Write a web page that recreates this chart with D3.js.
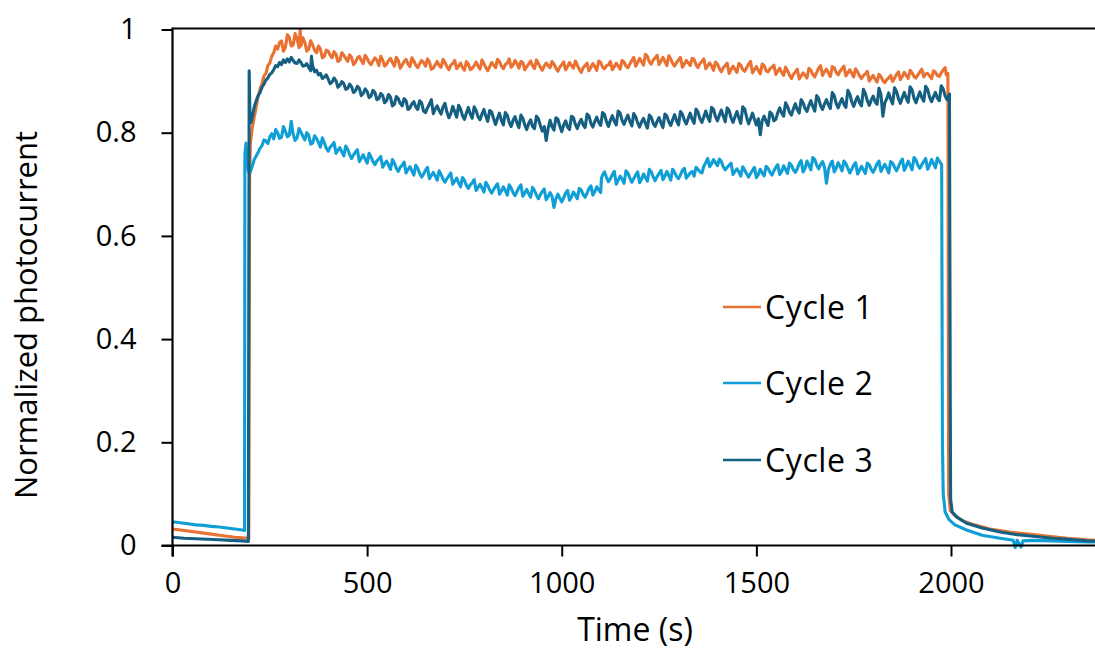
<!DOCTYPE html>
<html>
<head>
<meta charset="utf-8">
<script src="https://cdn.jsdelivr.net/npm/d3@7"></script>
<style>
  html, body { margin: 0; padding: 0; background: #fff; }
  svg { display: block; }
  text { font-family: "Open Sans", "Noto Sans", sans-serif; fill: #000; }
</style>
</head>
<body>
<svg id="chart" width="1095" height="649"></svg>
<script>
// ---------------- DATA (time in s, normalized photocurrent) ----------------
const seriesNames = ["Cycle 1", "Cycle 2", "Cycle 3"];
const seriesColors = ["#E97132", "#0F9ED5", "#156082"];
const xTicks = [0, 500, 1000, 1500, 2000];
const yTicks = [0, 0.2, 0.4, 0.6, 0.8, 1];
const yTickLabels = ["0", "0.2", "0.4", "0.6", "0.8", "1"];

const cycle1 = [
[0,0.032],[20,0.030],[40,0.028],[60,0.026],[80,0.024],[100,0.022],[120,0.020],[140,0.018],[160,0.016],[180,0.015],[196,0.014],
[198,0.70],[200,0.78],[205,0.81],[210,0.83],[215,0.85],[220,0.87],[225,0.885],[230,0.895],[235,0.91],[240,0.915],[245,0.93],[250,0.935],[255,0.948],[260,0.955],[265,0.968],
[270,0.962],[275,0.975],[280,0.978],[285,0.958],[290,0.965],[295,0.990],[300,0.985],[305,0.968],[310,0.970],[315,0.992],[320,0.982],[325,0.965],[328,1.000],[330,0.968],
[335,0.984],[340,0.975],[345,0.958],[350,0.962],[355,0.978],[360,0.970],[365,0.960],[370,0.955],[375,0.968],[380,0.962],[385,0.945],[390,0.948],[395,0.960],[400,0.958],
[405,0.950],[410,0.945],[415,0.957],[420,0.952],[425,0.938],[430,0.940],[435,0.955],[440,0.950],[445,0.944],[450,0.938],[455,0.951],[460,0.946],[465,0.932],[470,0.936],
[475,0.945],[480,0.948],[485,0.940],[490,0.934],[495,0.950],[500,0.944],[505,0.936],[510,0.932],[515,0.939],[520,0.945],[525,0.941],[530,0.930],[535,0.948],[540,0.941],
[545,0.929],[550,0.933],[555,0.940],[560,0.944],[565,0.936],[570,0.929],[575,0.946],[580,0.940],[585,0.925],[590,0.931],[595,0.938],[600,0.942],[605,0.933],[610,0.928],
[615,0.945],[620,0.939],[625,0.931],[630,0.926],[635,0.934],[640,0.940],[645,0.936],[650,0.929],[655,0.943],[660,0.937],[665,0.923],[670,0.925],[675,0.932],[680,0.938],
[685,0.930],[690,0.927],[695,0.942],[700,0.936],[705,0.928],[710,0.922],[715,0.931],[720,0.934],[725,0.940],[730,0.924],[735,0.929],[740,0.935],[745,0.926],[750,0.921],
[755,0.938],[760,0.933],[765,0.922],[770,0.925],[775,0.930],[780,0.937],[785,0.929],[790,0.923],[795,0.941],[800,0.934],[805,0.926],[810,0.920],[815,0.928],[820,0.936],
[825,0.931],[830,0.926],[835,0.942],[840,0.938],[845,0.929],[850,0.924],[855,0.932],[860,0.935],[865,0.943],[870,0.927],[875,0.931],[880,0.940],[885,0.934],[890,0.925],
[895,0.938],[900,0.936],[905,0.922],[910,0.928],[915,0.933],[920,0.939],[925,0.930],[930,0.924],[935,0.941],[940,0.934],[945,0.927],[950,0.921],[955,0.929],[960,0.935],
[965,0.930],[970,0.926],[975,0.938],[980,0.933],[985,0.925],[990,0.919],[995,0.927],[1000,0.932],[1005,0.937],[1010,0.922],[1015,0.928],[1020,0.936],[1025,0.930],[1030,0.925],
[1035,0.939],[1040,0.931],[1045,0.923],[1050,0.917],[1055,0.926],[1060,0.930],[1065,0.935],[1070,0.920],[1075,0.927],[1080,0.934],[1085,0.928],[1090,0.921],[1095,0.939],[1100,0.936],
[1105,0.927],[1110,0.924],[1115,0.930],[1120,0.931],[1125,0.938],[1130,0.922],[1135,0.928],[1140,0.935],[1145,0.929],[1150,0.923],[1155,0.940],[1160,0.937],[1165,0.929],[1170,0.926],
[1175,0.933],[1180,0.940],[1185,0.946],[1190,0.929],[1195,0.936],[1200,0.944],[1205,0.938],[1210,0.931],[1215,0.952],[1220,0.948],[1225,0.937],[1230,0.933],[1235,0.941],[1240,0.945],
[1245,0.950],[1250,0.932],[1255,0.939],[1260,0.946],[1265,0.938],[1270,0.930],[1275,0.949],[1280,0.943],[1285,0.934],[1290,0.929],[1295,0.936],[1300,0.941],[1305,0.946],[1310,0.927],
[1315,0.933],[1320,0.940],[1325,0.935],[1330,0.930],[1335,0.944],[1340,0.942],[1345,0.932],[1350,0.926],[1355,0.934],[1360,0.938],[1365,0.943],[1370,0.924],[1375,0.930],[1380,0.935],
[1385,0.929],[1390,0.921],[1395,0.937],[1400,0.933],[1405,0.924],[1410,0.918],[1415,0.926],[1420,0.930],[1425,0.935],[1430,0.915],[1435,0.922],[1440,0.929],[1445,0.923],[1450,0.917],
[1455,0.934],[1460,0.931],[1465,0.922],[1470,0.919],[1475,0.926],[1480,0.933],[1485,0.938],[1490,0.916],[1495,0.922],[1500,0.928],[1505,0.921],[1510,0.914],[1515,0.933],[1520,0.930],
[1525,0.920],[1530,0.918],[1535,0.924],[1540,0.927],[1545,0.931],[1550,0.913],[1555,0.919],[1560,0.925],[1565,0.917],[1570,0.911],[1575,0.927],[1580,0.920],[1585,0.912],[1590,0.905],
[1595,0.913],[1600,0.918],[1605,0.923],[1610,0.904],[1615,0.910],[1620,0.916],[1625,0.911],[1630,0.906],[1635,0.925],[1640,0.921],[1645,0.913],[1650,0.908],[1655,0.917],[1660,0.925],
[1665,0.930],[1670,0.911],[1675,0.918],[1680,0.923],[1685,0.916],[1690,0.909],[1695,0.928],[1700,0.926],[1705,0.917],[1710,0.912],[1715,0.919],[1720,0.924],[1725,0.929],[1730,0.910],
[1735,0.916],[1740,0.922],[1745,0.915],[1750,0.908],[1755,0.924],[1760,0.918],[1765,0.910],[1770,0.905],[1775,0.911],[1780,0.914],[1785,0.919],[1790,0.900],[1795,0.906],[1800,0.911],
[1805,0.904],[1810,0.898],[1815,0.913],[1820,0.909],[1825,0.901],[1830,0.897],[1835,0.903],[1840,0.906],[1845,0.911],[1850,0.899],[1855,0.906],[1860,0.913],[1865,0.918],[1870,0.903],
[1875,0.909],[1880,0.917],[1885,0.911],[1890,0.905],[1895,0.921],[1900,0.916],[1905,0.909],[1910,0.906],[1915,0.912],[1920,0.918],[1925,0.923],[1930,0.908],[1935,0.914],[1940,0.915],
[1945,0.910],[1950,0.905],[1955,0.920],[1960,0.917],[1965,0.911],[1970,0.909],[1975,0.916],[1980,0.922],[1985,0.926],[1988,0.912],[1992,0.915],
[1994,0.10],[1998,0.068],[2010,0.058],[2030,0.048],[2060,0.040],[2100,0.032],[2150,0.026],[2200,0.022],[2250,0.018],
[2300,0.014],[2350,0.011],[2400,0.009]
];

const cycle2 = [
[0,0.046],[20,0.044],[40,0.042],[60,0.040],[80,0.039],[100,0.037],[120,0.036],[140,0.034],[160,0.032],[180,0.030],[185,0.029],
[186,0.76],[189,0.78],[192,0.745],[195,0.725],[200,0.725],[205,0.735],[210,0.748],[215,0.755],[220,0.762],[225,0.770],[230,0.775],[235,0.786],[240,0.784],[245,0.779],
[250,0.792],[255,0.798],[260,0.788],[265,0.806],[270,0.800],[275,0.789],[280,0.791],[285,0.812],[290,0.803],[295,0.792],[300,0.795],[305,0.822],[310,0.797],[315,0.785],
[320,0.790],[325,0.808],[330,0.801],[335,0.793],[340,0.786],[345,0.800],[350,0.795],[355,0.778],[360,0.780],[365,0.794],[370,0.789],[375,0.781],[380,0.772],[385,0.790],
[390,0.781],[395,0.770],[400,0.764],[405,0.772],[410,0.776],[415,0.781],[420,0.760],[425,0.766],[430,0.771],[435,0.763],[440,0.755],[445,0.774],[450,0.768],[455,0.758],
[460,0.750],[465,0.757],[470,0.762],[475,0.767],[480,0.744],[485,0.751],[490,0.757],[495,0.749],[500,0.741],[505,0.760],[510,0.753],[515,0.744],[520,0.738],[525,0.745],
[530,0.749],[535,0.754],[540,0.733],[545,0.740],[550,0.745],[555,0.737],[560,0.729],[565,0.748],[570,0.741],[575,0.731],[580,0.725],[585,0.733],[590,0.737],[595,0.743],
[600,0.722],[605,0.729],[610,0.734],[615,0.726],[620,0.718],[625,0.737],[630,0.731],[635,0.721],[640,0.714],[645,0.720],[650,0.727],[655,0.733],[660,0.711],[665,0.717],
[670,0.723],[675,0.716],[680,0.708],[685,0.726],[690,0.719],[695,0.710],[700,0.704],[705,0.711],[710,0.716],[715,0.722],[720,0.700],[725,0.706],[730,0.712],[735,0.703],
[740,0.695],[745,0.713],[750,0.708],[755,0.698],[760,0.692],[765,0.699],[770,0.703],[775,0.709],[780,0.688],[785,0.694],[790,0.700],[795,0.693],[800,0.685],[805,0.704],
[810,0.698],[815,0.689],[820,0.683],[825,0.690],[830,0.696],[835,0.701],[840,0.681],[845,0.687],[850,0.695],[855,0.688],[860,0.679],[865,0.699],[870,0.693],[875,0.684],
[880,0.678],[885,0.686],[890,0.694],[895,0.699],[900,0.677],[905,0.683],[910,0.690],[915,0.682],[920,0.675],[925,0.694],[930,0.688],[935,0.679],[940,0.672],[945,0.680],
[950,0.686],[955,0.691],[960,0.670],[965,0.676],[970,0.684],[975,0.677],[980,0.655],[985,0.672],[990,0.681],[995,0.673],[1000,0.666],[1005,0.674],[1010,0.683],[1015,0.688],
[1020,0.669],[1025,0.676],[1030,0.685],[1035,0.679],[1040,0.672],[1045,0.692],[1050,0.689],[1055,0.680],[1060,0.675],[1065,0.683],[1070,0.692],[1075,0.697],[1080,0.679],
[1085,0.686],[1090,0.695],[1095,0.689],[1100,0.684],[1102,0.712],[1105,0.718],[1110,0.724],[1115,0.713],[1120,0.705],[1125,0.711],[1130,0.719],[1135,0.725],[1140,0.700],
[1145,0.708],[1150,0.716],[1155,0.710],[1160,0.702],[1165,0.726],[1170,0.722],[1175,0.712],[1180,0.704],[1185,0.711],[1190,0.718],[1195,0.724],[1200,0.703],[1205,0.710],
[1210,0.720],[1215,0.713],[1220,0.706],[1225,0.729],[1230,0.724],[1235,0.714],[1240,0.707],[1245,0.715],[1250,0.721],[1255,0.727],[1260,0.709],[1265,0.716],[1270,0.725],
[1275,0.717],[1280,0.708],[1285,0.729],[1290,0.723],[1295,0.715],[1300,0.711],[1305,0.718],[1310,0.727],[1315,0.731],[1320,0.712],[1325,0.717],[1330,0.722],[1335,0.725],
[1340,0.716],[1345,0.733],[1350,0.729],[1355,0.724],[1360,0.722],[1365,0.735],[1370,0.742],[1375,0.750],[1380,0.734],[1385,0.740],[1390,0.748],[1395,0.742],[1400,0.736],
[1405,0.749],[1410,0.744],[1415,0.734],[1420,0.728],[1425,0.733],[1430,0.737],[1435,0.741],[1440,0.719],[1445,0.725],[1450,0.730],[1455,0.724],[1460,0.716],[1465,0.734],
[1470,0.728],[1475,0.720],[1480,0.714],[1485,0.721],[1490,0.727],[1495,0.733],[1500,0.713],[1505,0.719],[1510,0.729],[1515,0.722],[1520,0.716],[1525,0.735],[1530,0.731],
[1535,0.723],[1540,0.718],[1545,0.726],[1550,0.733],[1555,0.738],[1560,0.719],[1565,0.725],[1570,0.736],[1575,0.729],[1580,0.721],[1585,0.741],[1590,0.737],[1595,0.728],
[1600,0.723],[1605,0.730],[1610,0.740],[1615,0.746],[1620,0.724],[1625,0.731],[1630,0.745],[1635,0.737],[1640,0.728],[1645,0.752],[1650,0.748],[1655,0.737],[1660,0.730],
[1665,0.738],[1670,0.744],[1675,0.733],[1680,0.702],[1685,0.728],[1690,0.739],[1695,0.745],[1700,0.724],[1705,0.731],[1710,0.742],[1715,0.735],[1720,0.726],[1725,0.745],
[1730,0.740],[1735,0.731],[1740,0.722],[1745,0.729],[1750,0.737],[1755,0.742],[1760,0.720],[1765,0.727],[1770,0.735],[1775,0.728],[1780,0.721],[1785,0.741],[1790,0.738],
[1795,0.729],[1800,0.723],[1805,0.731],[1810,0.740],[1815,0.745],[1820,0.725],[1825,0.732],[1830,0.739],[1835,0.731],[1840,0.722],[1845,0.744],[1850,0.741],[1855,0.733],
[1860,0.726],[1865,0.734],[1870,0.743],[1875,0.749],[1880,0.727],[1885,0.735],[1890,0.745],[1895,0.737],[1900,0.728],[1905,0.752],[1910,0.747],[1915,0.737],[1920,0.731],
[1925,0.738],[1930,0.744],[1935,0.750],[1940,0.729],[1945,0.737],[1950,0.748],[1955,0.740],[1960,0.732],[1965,0.751],[1970,0.745],[1976,0.738],
[1978,0.20],[1980,0.10],[1985,0.065],[1995,0.050],[2010,0.040],[2040,0.030],[2080,0.020],[2126,0.014],[2160,0.010],[2165,-0.004],
[2170,0.010],[2180,-0.003],[2185,0.009],[2211,0.010],[2260,0.009],[2300,0.008],[2350,0.007],[2400,0.007]
];

const cycle3 = [
[0,0.016],[30,0.014],[60,0.013],[90,0.012],[120,0.011],[150,0.010],[180,0.009],[195,0.008],
[197,0.92],[199,0.83],[202,0.82],[206,0.835],[210,0.85],[215,0.862],[220,0.872],[225,0.878],[230,0.888],[235,0.894],[240,0.902],[245,0.906],[250,0.913],[255,0.916],
[260,0.922],[265,0.930],[270,0.928],[275,0.936],[280,0.932],[285,0.941],[290,0.936],[295,0.943],[300,0.937],[305,0.946],[310,0.940],[315,0.935],[320,0.934],[325,0.941],
[330,0.936],[335,0.929],[340,0.930],[345,0.934],[350,0.926],[355,0.920],[357,0.948],[360,0.930],[365,0.918],[370,0.921],[375,0.912],[380,0.915],[385,0.905],[390,0.908],
[395,0.912],[400,0.904],[405,0.895],[410,0.898],[415,0.906],[420,0.901],[425,0.888],[430,0.892],[435,0.899],[440,0.895],[445,0.884],[450,0.886],[455,0.894],[460,0.889],
[465,0.878],[470,0.881],[475,0.890],[480,0.886],[485,0.872],[490,0.876],[495,0.885],[500,0.880],[505,0.868],[510,0.871],[515,0.882],[520,0.878],[525,0.864],[530,0.866],
[535,0.876],[540,0.872],[545,0.858],[550,0.862],[555,0.874],[560,0.869],[565,0.852],[570,0.855],[575,0.870],[580,0.866],[585,0.857],[590,0.852],[595,0.866],[600,0.862],
[605,0.845],[610,0.848],[615,0.856],[620,0.860],[625,0.850],[630,0.845],[635,0.862],[640,0.858],[645,0.842],[650,0.839],[655,0.848],[660,0.855],[665,0.864],[670,0.837],
[675,0.846],[680,0.852],[685,0.843],[690,0.836],[695,0.850],[700,0.857],[705,0.840],[710,0.829],[715,0.837],[720,0.851],[725,0.841],[730,0.830],[735,0.853],[740,0.846],
[745,0.833],[750,0.826],[755,0.838],[760,0.849],[765,0.836],[770,0.828],[775,0.850],[780,0.843],[785,0.831],[790,0.825],[795,0.836],[800,0.845],[805,0.832],[810,0.822],
[815,0.843],[820,0.840],[825,0.827],[830,0.816],[835,0.828],[840,0.838],[845,0.824],[850,0.815],[855,0.839],[860,0.834],[865,0.820],[870,0.812],[875,0.824],[880,0.831],
[885,0.819],[890,0.810],[895,0.834],[900,0.828],[905,0.815],[910,0.806],[915,0.818],[920,0.825],[925,0.812],[930,0.808],[935,0.832],[940,0.827],[945,0.814],[950,0.803],
[955,0.812],[960,0.785],[965,0.808],[970,0.824],[975,0.812],[980,0.805],[985,0.829],[990,0.826],[995,0.813],[1000,0.802],[1005,0.815],[1010,0.823],[1015,0.811],[1020,0.806],
[1025,0.832],[1030,0.829],[1035,0.816],[1040,0.808],[1045,0.819],[1050,0.826],[1055,0.815],[1060,0.810],[1065,0.836],[1070,0.832],[1075,0.818],[1080,0.811],[1085,0.822],
[1090,0.830],[1095,0.820],[1100,0.814],[1105,0.839],[1110,0.835],[1115,0.821],[1120,0.812],[1125,0.824],[1130,0.833],[1135,0.822],[1140,0.815],[1145,0.842],[1150,0.838],
[1155,0.824],[1160,0.816],[1165,0.826],[1170,0.834],[1175,0.822],[1180,0.813],[1185,0.837],[1190,0.831],[1195,0.819],[1200,0.811],[1205,0.821],[1210,0.828],[1215,0.818],
[1220,0.809],[1225,0.834],[1230,0.830],[1235,0.818],[1240,0.812],[1245,0.822],[1250,0.829],[1255,0.819],[1260,0.810],[1265,0.836],[1270,0.832],[1275,0.821],[1280,0.814],
[1285,0.825],[1290,0.835],[1295,0.823],[1300,0.815],[1305,0.841],[1310,0.836],[1315,0.824],[1320,0.817],[1325,0.828],[1330,0.838],[1335,0.826],[1340,0.818],[1345,0.846],
[1350,0.840],[1355,0.827],[1360,0.820],[1365,0.831],[1370,0.842],[1375,0.830],[1380,0.822],[1385,0.849],[1390,0.845],[1395,0.831],[1400,0.823],[1405,0.834],[1410,0.844],
[1415,0.832],[1420,0.821],[1425,0.848],[1430,0.843],[1435,0.829],[1440,0.820],[1445,0.831],[1450,0.841],[1455,0.829],[1460,0.818],[1465,0.850],[1470,0.846],[1475,0.830],
[1480,0.817],[1485,0.827],[1490,0.838],[1495,0.826],[1500,0.815],[1505,0.827],[1510,0.796],[1515,0.824],[1520,0.832],[1525,0.822],[1530,0.814],[1535,0.840],[1540,0.836],
[1545,0.823],[1550,0.826],[1555,0.839],[1560,0.848],[1565,0.838],[1570,0.832],[1575,0.858],[1580,0.851],[1585,0.840],[1590,0.834],[1595,0.846],[1600,0.856],[1605,0.845],
[1610,0.838],[1615,0.864],[1620,0.858],[1625,0.847],[1630,0.841],[1635,0.853],[1640,0.862],[1645,0.851],[1650,0.842],[1655,0.872],[1660,0.866],[1665,0.852],[1670,0.845],
[1675,0.856],[1680,0.864],[1685,0.854],[1690,0.847],[1695,0.878],[1700,0.872],[1705,0.857],[1710,0.848],[1715,0.858],[1720,0.866],[1725,0.855],[1730,0.849],[1735,0.882],
[1740,0.875],[1745,0.860],[1750,0.851],[1755,0.862],[1760,0.870],[1765,0.858],[1770,0.852],[1775,0.884],[1780,0.876],[1785,0.862],[1790,0.853],[1795,0.863],[1800,0.871],
[1805,0.860],[1810,0.855],[1815,0.886],[1820,0.874],[1825,0.832],[1830,0.858],[1835,0.866],[1840,0.877],[1845,0.865],[1850,0.856],[1855,0.887],[1860,0.880],[1865,0.866],
[1870,0.857],[1875,0.868],[1880,0.878],[1885,0.867],[1890,0.859],[1895,0.889],[1900,0.883],[1905,0.867],[1910,0.858],[1915,0.869],[1920,0.879],[1925,0.868],[1930,0.861],
[1935,0.890],[1940,0.884],[1945,0.869],[1950,0.860],[1955,0.870],[1960,0.878],[1965,0.867],[1970,0.862],[1975,0.891],[1980,0.885],[1985,0.871],[1990,0.864],[1996,0.875],
[1998,0.30],[1999,0.09],[2003,0.065],[2015,0.055],[2040,0.043],[2080,0.034],[2126,0.026],[2170,0.021],[2211,0.018],[2260,0.014],
[2300,0.012],[2350,0.009],[2400,0.008]
];

const allSeries = [cycle1, cycle2, cycle3];

// ---------------- CHART ----------------
const svg = d3.select("#chart");
const W = 1095, H = 649;
const x = d3.scaleLinear().domain([0, 2400]).range([172.5, 1106.7]);
const y = d3.scaleLinear().domain([0, 1]).range([545.5, 29.5]);

const line = d3.line().x(d => x(d[0])).y(d => y(d[1]));
svg.append("defs").append("clipPath").attr("id", "clip")
  .append("rect").attr("x", 172.5).attr("y", 20).attr("width", W - 172.5).attr("height", 530);

const gLines = svg.append("g").attr("clip-path", "url(#clip)");
allSeries.forEach((s, i) => {
  gLines.append("path")
    .datum(s)
    .attr("fill", "none")
    .attr("stroke", seriesColors[i])
    .attr("stroke-width", 3.1)
    .attr("stroke-linejoin", "round")
    .attr("d", line);
});

// top border
svg.append("line")
  .attr("x1", x(0)).attr("x2", W)
  .attr("y1", y(1) - 1).attr("y2", y(1) - 1)
  .attr("stroke", "#000").attr("stroke-width", 2.2);

// x axis
const xAxis = d3.axisBottom(x).tickValues(xTicks).tickSize(11).tickPadding(16)
  .tickFormat(d3.format("d"));
const gx = svg.append("g").attr("transform", `translate(0,${y(0)})`).call(xAxis);
gx.select(".domain").remove();
gx.append("line").attr("x1", x(0) - 11).attr("x2", W).attr("y1", 0).attr("y2", 0)
  .attr("stroke", "#000").attr("stroke-width", 2.2);
gx.selectAll(".tick line").attr("stroke", "#000").attr("stroke-width", 2);
gx.selectAll(".tick text").attr("font-size", 29).attr("font-family", "'Open Sans', sans-serif").attr("fill", "#000");

// y axis
const yAxis = d3.axisLeft(y).tickValues(yTicks).tickSize(11).tickPadding(25)
  .tickFormat((d, i) => yTickLabels[i]);
const gy = svg.append("g").attr("transform", `translate(${x(0)},0)`).call(yAxis);
gy.select(".domain").remove();
gy.append("line").attr("x1", 0).attr("x2", 0).attr("y1", y(1) - 2).attr("y2", y(0) + 11)
  .attr("stroke", "#000").attr("stroke-width", 2.2);
gy.selectAll(".tick line").attr("stroke", "#000").attr("stroke-width", 2);
gy.selectAll(".tick text").attr("font-size", 29).attr("font-family", "'Open Sans', sans-serif").attr("fill", "#000");

// axis titles
svg.append("text").attr("x", 635).attr("y", 641)
  .attr("text-anchor", "middle").attr("font-size", 32).text("Time (s)");
svg.append("text")
  .attr("transform", "translate(37,315) rotate(-90)")
  .attr("text-anchor", "middle").attr("font-size", 31).text("Normalized photocurrent");

// legend
const legendY = [307, 383, 460];
seriesNames.forEach((name, i) => {
  svg.append("line").attr("x1", 723).attr("x2", 761)
    .attr("y1", legendY[i]).attr("y2", legendY[i])
    .attr("stroke", seriesColors[i]).attr("stroke-width", 2.6);
  svg.append("text").attr("x", 765).attr("y", legendY[i]).attr("dy", "0.36em")
    .attr("font-size", 32).attr("letter-spacing", 0.6).text(name);
});
</script>
</body>
</html>
